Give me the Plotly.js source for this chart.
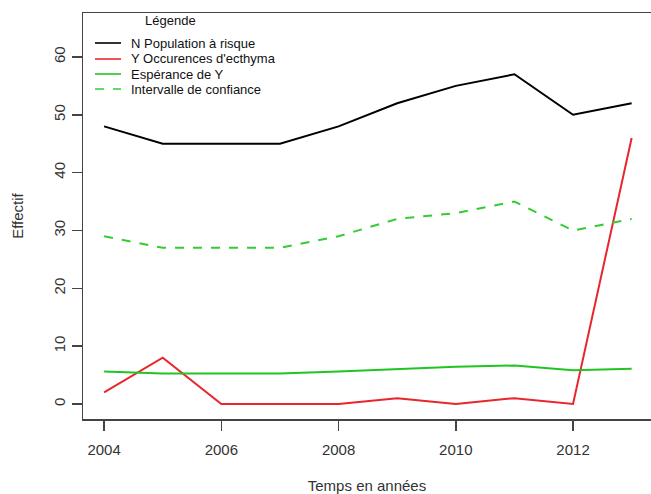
<!DOCTYPE html>
<html>
<head>
<meta charset="utf-8">
<script src="https://cdn.plot.ly/plotly-3.0.1.min.js"></script>
<style>html,body{margin:0;padding:0;background:#fff;}#chart{width:651px;height:494px;}</style>
</head>
<body>
<div id="chart"></div>
<script>
var years = [2004, 2005, 2006, 2007, 2008, 2009, 2010, 2011, 2012, 2013];
var populationN = [48, 45, 45, 45, 48, 52, 55, 57, 50, 52];
var occurencesY = [2, 8, 0, 0, 0, 1, 0, 1, 0, 46];
var esperanceY = [5.6, 5.25, 5.25, 5.25, 5.6, 6.07, 6.42, 6.65, 5.83, 6.07];
var intervalle = [29, 27, 27, 27, 29, 32, 33, 35, 30, 32];
var xTicks = [2004, 2006, 2008, 2010, 2012];
var yTicks = [0, 10, 20, 30, 40, 50, 60];
var legendTitle = "Légende";
var seriesNames = ["N Population à risque", "Y Occurences d'ecthyma", "Espérance de Y", "Intervalle de confiance"];
var seriesColors = ["#000000", "#e8262b", "#22c422", "#33cc33"];
var seriesDash = ["solid", "solid", "solid", "dash"];

var fam = "Liberation Sans, Arial, sans-serif";
var font = {family: fam, size: 15, color: "#333"};
var seriesY = [populationN, occurencesY, esperanceY, intervalle];
var traces = seriesY.map(function (ys, i) {
  return {x: years, y: ys, type: "scatter", mode: "lines", name: seriesNames[i],
    line: {color: seriesColors[i], width: 2, dash: seriesDash[i]}, showlegend: false};
});

var shapes = [], annotations = [];
// legend (manual, R style)
var lx0 = 95, lx1 = 121, ltx = 129, rowY = [43, 59, 74, 89];
var W = 651, H = 494, ml = 83, mt = 13, mb = 75, mr = 0;
var pw = W - ml - mr, ph = H - mt - mb;
function px(x) { return (x - ml) / pw; }
function py(y) { return 1 - (y - mt) / ph; }
seriesNames.forEach(function (n, i) {
  shapes.push({type: "line", xref: "paper", yref: "paper", x0: px(lx0), x1: px(lx1), y0: py(rowY[i]), y1: py(rowY[i]),
    line: {color: seriesColors[i], width: 1.6, dash: i === 3 ? "dash" : "solid"}});
  annotations.push({xref: "paper", yref: "paper", x: px(ltx), y: py(rowY[i]), xanchor: "left", yanchor: "middle",
    text: n, showarrow: false, font: {family: fam, size: 13, color: "#111"}});
});
annotations.push({xref: "paper", yref: "paper", x: px(170), y: py(20), xanchor: "center", yanchor: "middle",
  text: legendTitle, showarrow: false, font: {family: fam, size: 13, color: "#111"}});

var layout = {
  width: W, height: H,
  margin: {l: ml, r: mr, t: mt, b: mb, pad: 0},
  paper_bgcolor: "#fff", plot_bgcolor: "#fff",
  font: font,
  showlegend: false,
  xaxis: {range: [2003.64, 2013.33], tickvals: xTicks, ticktext: xTicks.map(String), ticks: "outside", ticklen: 10,
    tickwidth: 1.5, tickcolor: "#444", showgrid: false, zeroline: false, showline: true, linecolor: "#444", linewidth: 1.5,
    mirror: true, ticklabelstandoff: 6,
    title: {text: "Temps en années", font: {family: fam, size: 15, color: "#333"}, standoff: 26}},
  yaxis: {range: [-2.6, 67.6], tickvals: yTicks, ticktext: yTicks.map(String), ticks: "outside", ticklen: 10,
    tickwidth: 1.5, tickcolor: "#444", showgrid: false, zeroline: false, showline: true, linecolor: "#444", linewidth: 1.5,
    tickangle: -90, ticklabelstandoff: 1,
    title: {text: "Effectif", font: {family: fam, size: 15, color: "#333"}, standoff: 23}},
  shapes: shapes,
  annotations: annotations
};
Plotly.newPlot("chart", traces, layout, {displayModeBar: false, staticPlot: true});
</script>
</body>
</html>
